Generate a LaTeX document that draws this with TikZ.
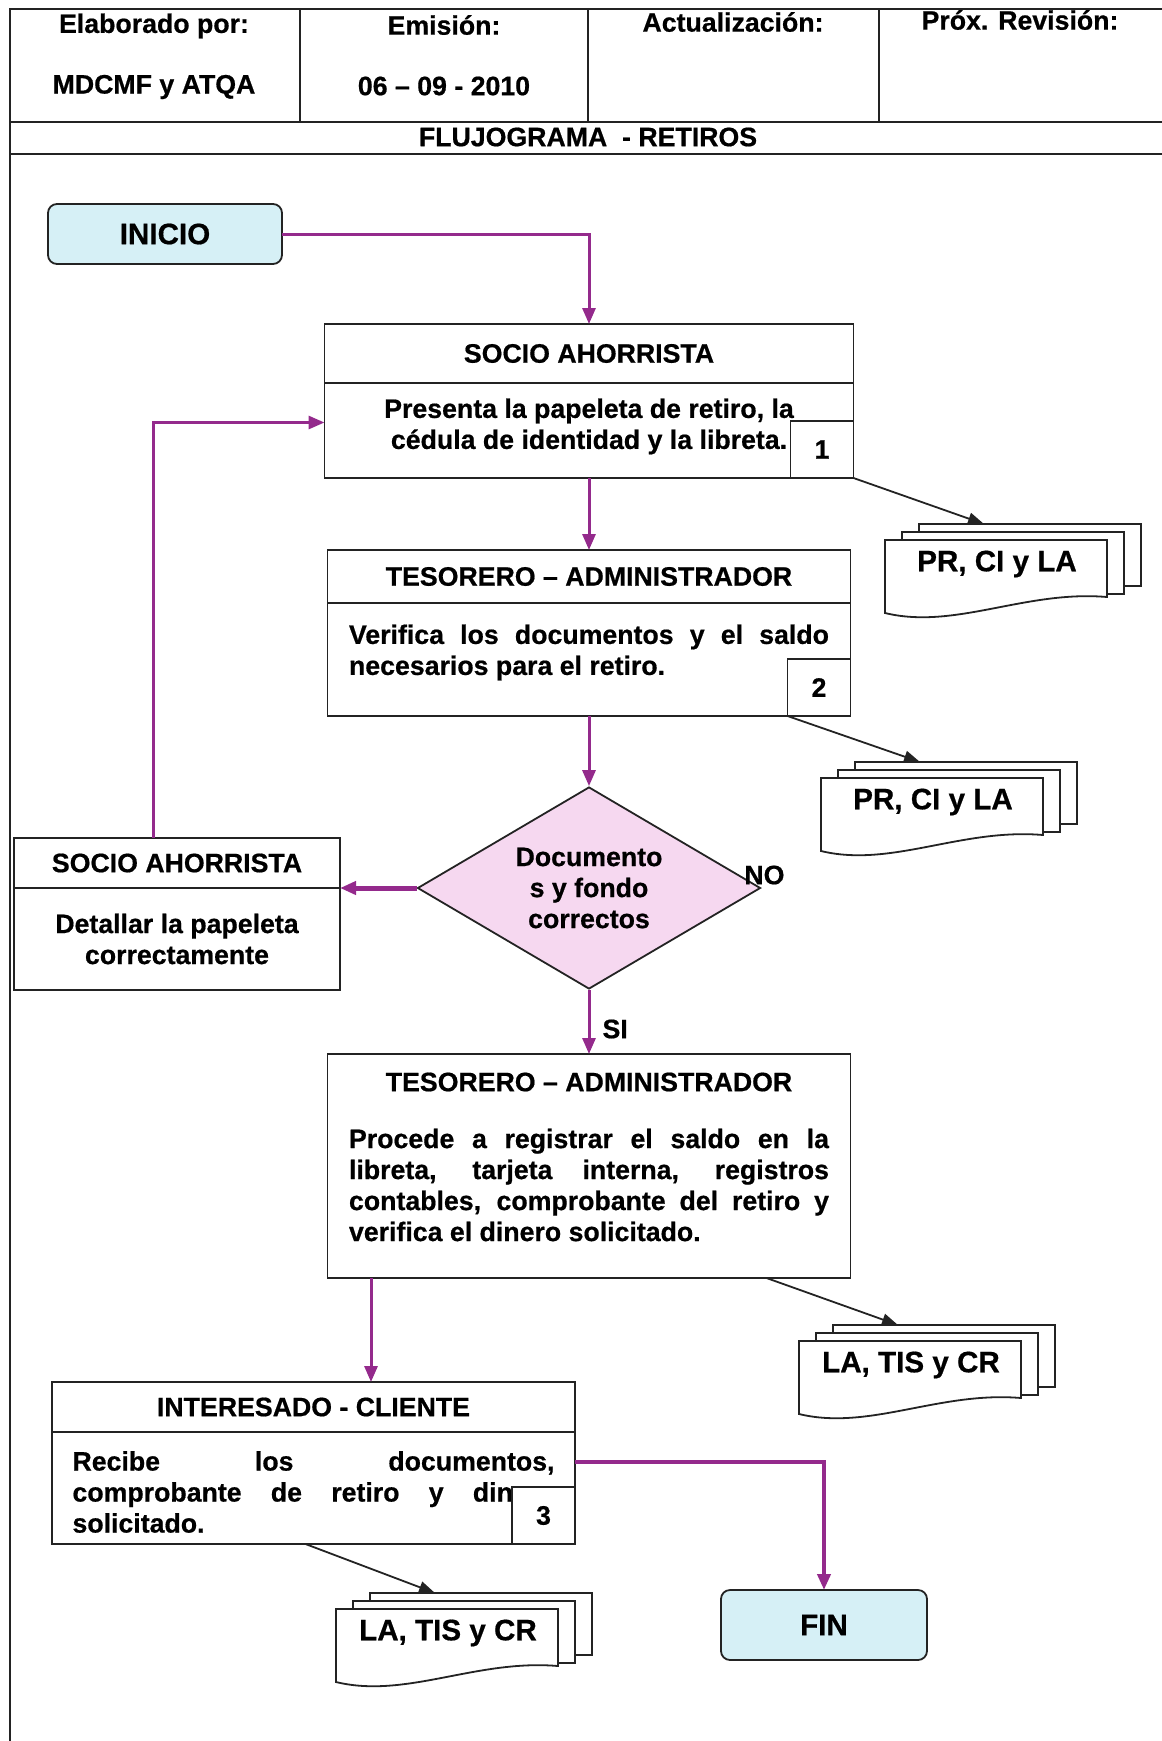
\documentclass[tikz,border=0pt]{standalone}
\usepackage{fontspec}
\setmainfont{Liberation Sans}[BoldFeatures={FakeBold=0.6}]
\usetikzlibrary{arrows.meta,positioning,shapes.geometric,calc,backgrounds}
\definecolor{morado}{RGB}{148,42,140}
\definecolor{celeste}{RGB}{214,240,246}
\definecolor{rosa}{RGB}{246,216,240}
\definecolor{tinta}{RGB}{35,35,35}
\newcommand{\letra}{\fontsize{26.7}{31}\selectfont\bfseries\tolerance=10000\hbadness=10000\relax}
\newcommand{\letraG}{\fontsize{29.6}{34}\selectfont\bfseries}
% pila de documentos: nombre, esquina superior izquierda de la hoja delantera, texto
\newcommand{\pila}[3]{%
  \coordinate (#1-nw) at (#2);
  \coordinate (#1-in) at ($(#1-nw)+(99,-16)$);
  \node[font=\letraG] (#1) at ($(#1-nw)+(112,24)$) {#3};
  \begin{pgfonlayer}{background}
    \foreach \n in {2,1}
      \draw[hoja] ($(#1-nw)+(17*\n,-8*\n)$) rectangle ($(#1-nw)+(222+17*\n,62-8*\n)$);
    \draw[hoja] (#1-nw) -- ($(#1-nw)+(222,0)$) -- ($(#1-nw)+(222,57)$)
      .. controls ($(#1-nw)+(140,50)$) and ($(#1-nw)+(70,90)$) .. ($(#1-nw)+(0,73)$) -- cycle;
  \end{pgfonlayer}}

\begin{document}
\begin{tikzpicture}[x=1pt, y=-1pt,
  marco/.style={line width=2pt, tinta},
  caja/.style={draw=tinta, line width=1.8pt, fill=white, inner sep=0pt, outer sep=0pt, font=\letra, align=center},
  terminal/.style={caja, rounded corners=9pt, fill=celeste, font=\letraG},
  numero/.style={caja, minimum width=63pt, minimum height=57pt},
  rombo/.style={draw=tinta, line width=1.8pt, fill=rosa, diamond, aspect=1.7, minimum width=343pt, minimum height=202pt, inner sep=0pt, font=\letra, align=center},
  parrafo/.style={font=\letra, text width=480pt, align=justify, inner sep=0pt},
  hoja/.style={draw=tinta, line width=1.8pt, fill=white},
  flujo/.style={-{Triangle[length=16pt, width=13pt]}, line width=3pt, morado},
  docflecha/.style={-{Triangle[length=16pt, width=12pt]}, line width=1.8pt, tinta}]
\useasboundingbox (0,0) rectangle (1162,1741);
% encabezado
\draw[marco] (10,1741) -- (10,9) -- (1162,9);
\draw[marco] (10,122) -- (1162,122);
\draw[marco] (10,154) -- (1162,154);
\foreach \x in {300,588,879} \draw[marco] (\x,9) -- (\x,122);
\node[font=\letra] (elab) at (154,26) {Elaborado por:};
\node[font=\letra] (autores) at (154,87) {MDCMF y ATQA};
\node[font=\letra] (emis) at (444,25) {Emisión:};
\node[font=\letra] (fecha) at (444,86) {06 – 09 - 2010};
\node[font=\letra] (actual) at (733,22) {Actualización:};
\node[font=\letra] (revis) at (1020,20) {Próx. Revisión:};
\node[font=\letra] (titulo) at (588,137) {FLUJOGRAMA\ \ - RETIROS};
% nodos
\node[terminal, minimum width=234pt, minimum height=60pt] (inicio) at (165,234) {INICIO};
\node[caja, minimum width=529pt, minimum height=59pt] (socioAt) at (589,353.5) {SOCIO AHORRISTA};
\node[caja, minimum width=529pt, minimum height=95pt, below=0pt of socioAt] (socioA) {};
\node[font=\letra, align=center] (socioAx) at ($(socioA.center)+(0,-4)$) {Presenta la papeleta de retiro, la\\cédula de identidad y la libreta.};
\node[numero, anchor=south east] (num1) at (socioA.south east) {1};
\pila{doc1}{885,540}{PR, CI y LA}
\node[caja, minimum width=523pt, minimum height=53pt] (tesAt) at (589,576.5) {TESORERO – ADMINISTRADOR};
\node[caja, minimum width=523pt, minimum height=113pt, below=0pt of tesAt] (tesA) {};
\node[parrafo] (tesAx) at ($(tesA.center)+(0,-7)$) {Verifica los documentos y el saldo\linebreak necesarios para el retiro.};
\node[numero, anchor=south east] (num2) at (tesA.south east) {2};
\pila{doc2}{821,778}{PR, CI y LA}
\node[rombo] (decision) at (589,888) {Documento\\s y fondo\\correctos};
\node[font=\letra] (no) at ([xshift=3pt, yshift=13pt]decision.east) {NO};
\node[caja, minimum width=326pt, minimum height=50pt] (socioBt) at (177,863) {SOCIO AHORRISTA};
\node[caja, minimum width=326pt, minimum height=102pt, below=0pt of socioBt] (socioB) {Detallar la papeleta\\correctamente};
\node[caja, minimum width=523pt, minimum height=224pt] (tesB) at (589,1166) {};
\node[font=\letra] (tesBt) at ($(tesB.north)+(0,28)$) {TESORERO – ADMINISTRADOR};
\node[parrafo] (tesBx) at ($(tesB.north)+(0,131)$) {Procede a registrar el saldo en la\linebreak libreta, tarjeta interna, registros\linebreak contables, comprobante del retiro y\linebreak verifica el dinero solicitado.};
\node[font=\letra, anchor=west] (si) at (599,1029) {SI};
\pila{doc3}{799,1341}{LA, TIS y CR}
\node[caja, minimum width=523pt, minimum height=50pt] (clienteT) at (313.5,1407) {INTERESADO - CLIENTE};
\node[caja, minimum width=523pt, minimum height=112pt, below=0pt of clienteT] (cliente) {};
\node[parrafo, text width=482pt] (clientex) at ($(cliente.center)+(0,4)$) {Recibe los documentos,\linebreak comprobante de retiro y dinero\linebreak solicitado.};
\node[numero, anchor=south east] (num3) at (cliente.south east) {3};
\pila{doc4}{336,1609}{LA, TIS y CR}
\node[terminal, minimum width=206pt, minimum height=70pt] (fin) at (824,1625) {FIN};
% conectores
\draw[flujo] (inicio.east) -| (socioAt.north);
\draw[flujo] (socioA.south) -- (tesAt.north);
\draw[flujo] (tesA.south) -- (decision.north);
\draw[flujo, line width=5pt] (decision.west) -- (socioBt.south east);
\draw[flujo] ([xshift=-24pt]socioBt.north) |- ([yshift=8pt]socioA.west);
\draw[flujo] (decision.south) -- (tesB.north);
\draw[flujo] ([xshift=-218pt]tesB.south) -- ([xshift=57.5pt]clienteT.north);
\draw[flujo, line width=4pt] ([yshift=26pt]cliente.east) -| (fin.north);
\draw[docflecha] (num1.south east) -- (doc1-in);
\draw[docflecha] (num2.south west) -- (doc2-in);
\draw[docflecha] ([xshift=-84pt]tesB.south east) -- (doc3-in);
\draw[docflecha] ([xshift=-8pt]cliente.south) -- (doc4-in);
\end{tikzpicture}
\end{document}
